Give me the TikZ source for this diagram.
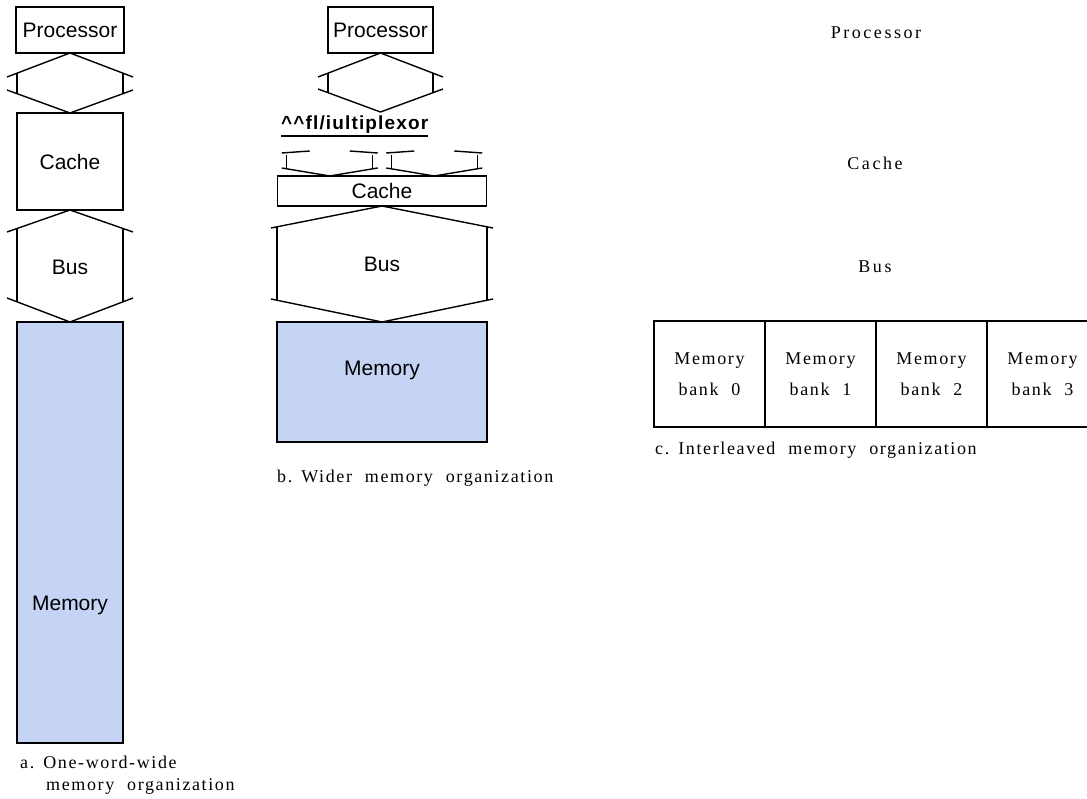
\documentclass[tikz,border=0pt]{standalone}
\usepackage{fontspec}
\setmainfont{Liberation Serif}
\setsansfont{Liberation Sans}
\newfontfamily\opisfont{Liberation Serif}[LetterSpace=9,WordSpace=2.1]
\newfontfamily\szerfont{Liberation Serif}[LetterSpace=14]
\newfontfamily\muxfont{Liberation Sans}[LetterSpace=6]
\usetikzlibrary{calc,positioning}
\definecolor{pamiec}{RGB}{197,211,245}

\tikzset{
  linia/.style={line width=1.4pt, black},
  blok/.style={draw, line width=1.4pt, inner sep=0pt, outer sep=0pt},
  tekst/.style={font=\sffamily\fontsize{21}{24}\selectfont, inner sep=0pt},
  bank/.style={draw, line width=1.2pt, minimum width=111pt, minimum height=106pt,
    inner sep=0pt, outer sep=0pt, align=center, font=\opisfont\fontsize{18}{31}\selectfont},
  opis/.style={font=\opisfont\fontsize{18}{24}\selectfont, inner sep=0pt, anchor=west},
  etykieta/.style={font=\szerfont\fontsize{18}{24}\selectfont, inner sep=0pt},
}

% szyna: #1 wierzcholek gorny, #2 wierzcholek dolny, #3 polszerokosc,
% #4 wysuniecie, #5 spadek gorny, #6 spadek dolny
\newcommand{\szyna}[6]{%
  \draw[linia] ($(#1)+(-#3-#4,#5)$) -- (#1) -- ($(#1)+(#3+#4,#5)$);
  \draw[linia] ($(#2)+(-#3-#4,-#6)$) -- (#2) -- ($(#2)+(#3+#4,-#6)$);
  \draw[linia] ($(#1)+(-#3,{#5*#3/(#3+#4)})$) -- ($(#2)+(-#3,{-#6*#3/(#3+#4)})$);
  \draw[linia] ($(#1)+(#3,{#5*#3/(#3+#4)})$) -- ($(#2)+(#3,{-#6*#3/(#3+#4)})$);
}

% multiplekser: #1 wierzcholek dolny
\newcommand{\mux}[1]{%
  \draw[linia] ($(#1)+(-48,-8)$) -- (#1) -- ($(#1)+(48,-8)$);
  \draw[linia] ($(#1)+(-43,-7)$) -- ++(0,-14);
  \draw[linia] ($(#1)+(43,-7)$) -- ++(0,-14);
  \draw[linia] ($(#1)+(-48,-23)$) -- ($(#1)+(-20,-25)$);
  \draw[linia] ($(#1)+(20,-25)$) -- ($(#1)+(48,-23)$);
}

\begin{document}
\begin{tikzpicture}[x=1pt,y=-1pt]
\clip (0,0) rectangle (1087,799);

% ---------- a: pamiec szerokosci jednego slowa ----------
\node[blok, tekst, minimum width=108pt, minimum height=46pt] (proc_a) at (70,30) {Processor};
\node[blok, tekst, minimum width=106pt, minimum height=97pt] (cache_a) at (70,161.5) {Cache};
\node[blok, fill=pamiec, minimum width=106pt, minimum height=421pt] (mem_a) at (70,532.5) {};
\node[tekst] (mem_a_txt) at (70,605) {Memory};
\node[tekst] (bus_a) at (70,267) {Bus};
\szyna{proc_a.south}{cache_a.north}{53}{10}{24}{23}
\szyna{cache_a.south}{mem_a.north}{53}{10}{22}{24}

\node[opis] (pod_a1) at (20,762) {a.\enspace One-word-wide};
\node[opis] (pod_a2) at (46,786) {memory organization};

% ---------- b: szersza pamiec ----------
\node[blok, tekst, minimum width=105pt, minimum height=46pt] (proc_b) at (380.5,30) {Processor};
\coordinate (mux_wej) at (380.5,112);
\szyna{proc_b.south}{mux_wej}{52.5}{10}{24}{23}

\node[anchor=west, inner sep=0pt, font=\muxfont\bfseries\fontsize{19}{22}\selectfont] (mux_txt) at (281,125)
  {\textasciicircum\textasciicircum fl/iultiplexor};
\draw[line width=1.8pt] ($(mux_txt.south west)+(0,2)$) -- ($(mux_txt.south east)+(0,2)$);

\node[blok, tekst, minimum width=209pt, minimum height=30pt] (cache_b) at (382,191) {Cache};
\coordinate (mux_l) at ($(cache_b.north west)!0.25!(cache_b.north east)$);
\coordinate (mux_r) at ($(cache_b.north west)!0.75!(cache_b.north east)$);
\mux{mux_l}
\mux{mux_r}

\node[blok, fill=pamiec, minimum width=210pt, minimum height=120pt] (mem_b) at (382,382) {};
\node[tekst] (mem_b_txt) at (382,370) {Memory};
\node[tekst] (bus_b) at (382,264) {Bus};
\szyna{cache_b.south}{mem_b.north}{105}{6}{22}{23}

\node[opis] (pod_b) at (277,478) {b.\enspace Wider memory organization};

% ---------- c: pamiec z przeplotem ----------
\node[etykieta] (c_proc) at (876,33) {Processor};
\node[etykieta] (c_cache) at (875,163) {Cache};
\node[etykieta] (c_bus) at (875,267) {Bus};

\node[bank] (bank0) at (709.5,374) {Memory\\bank 0};
\node[bank, right=0pt of bank0] (bank1) {Memory\\bank 1};
\node[bank, right=0pt of bank1] (bank2) {Memory\\bank 2};
\node[bank, right=0pt of bank2] (bank3) {Memory\\bank 3};

\node[opis] (pod_c) at (655,450) {c.\enspace Interleaved memory organization};

\end{tikzpicture}
\end{document}
